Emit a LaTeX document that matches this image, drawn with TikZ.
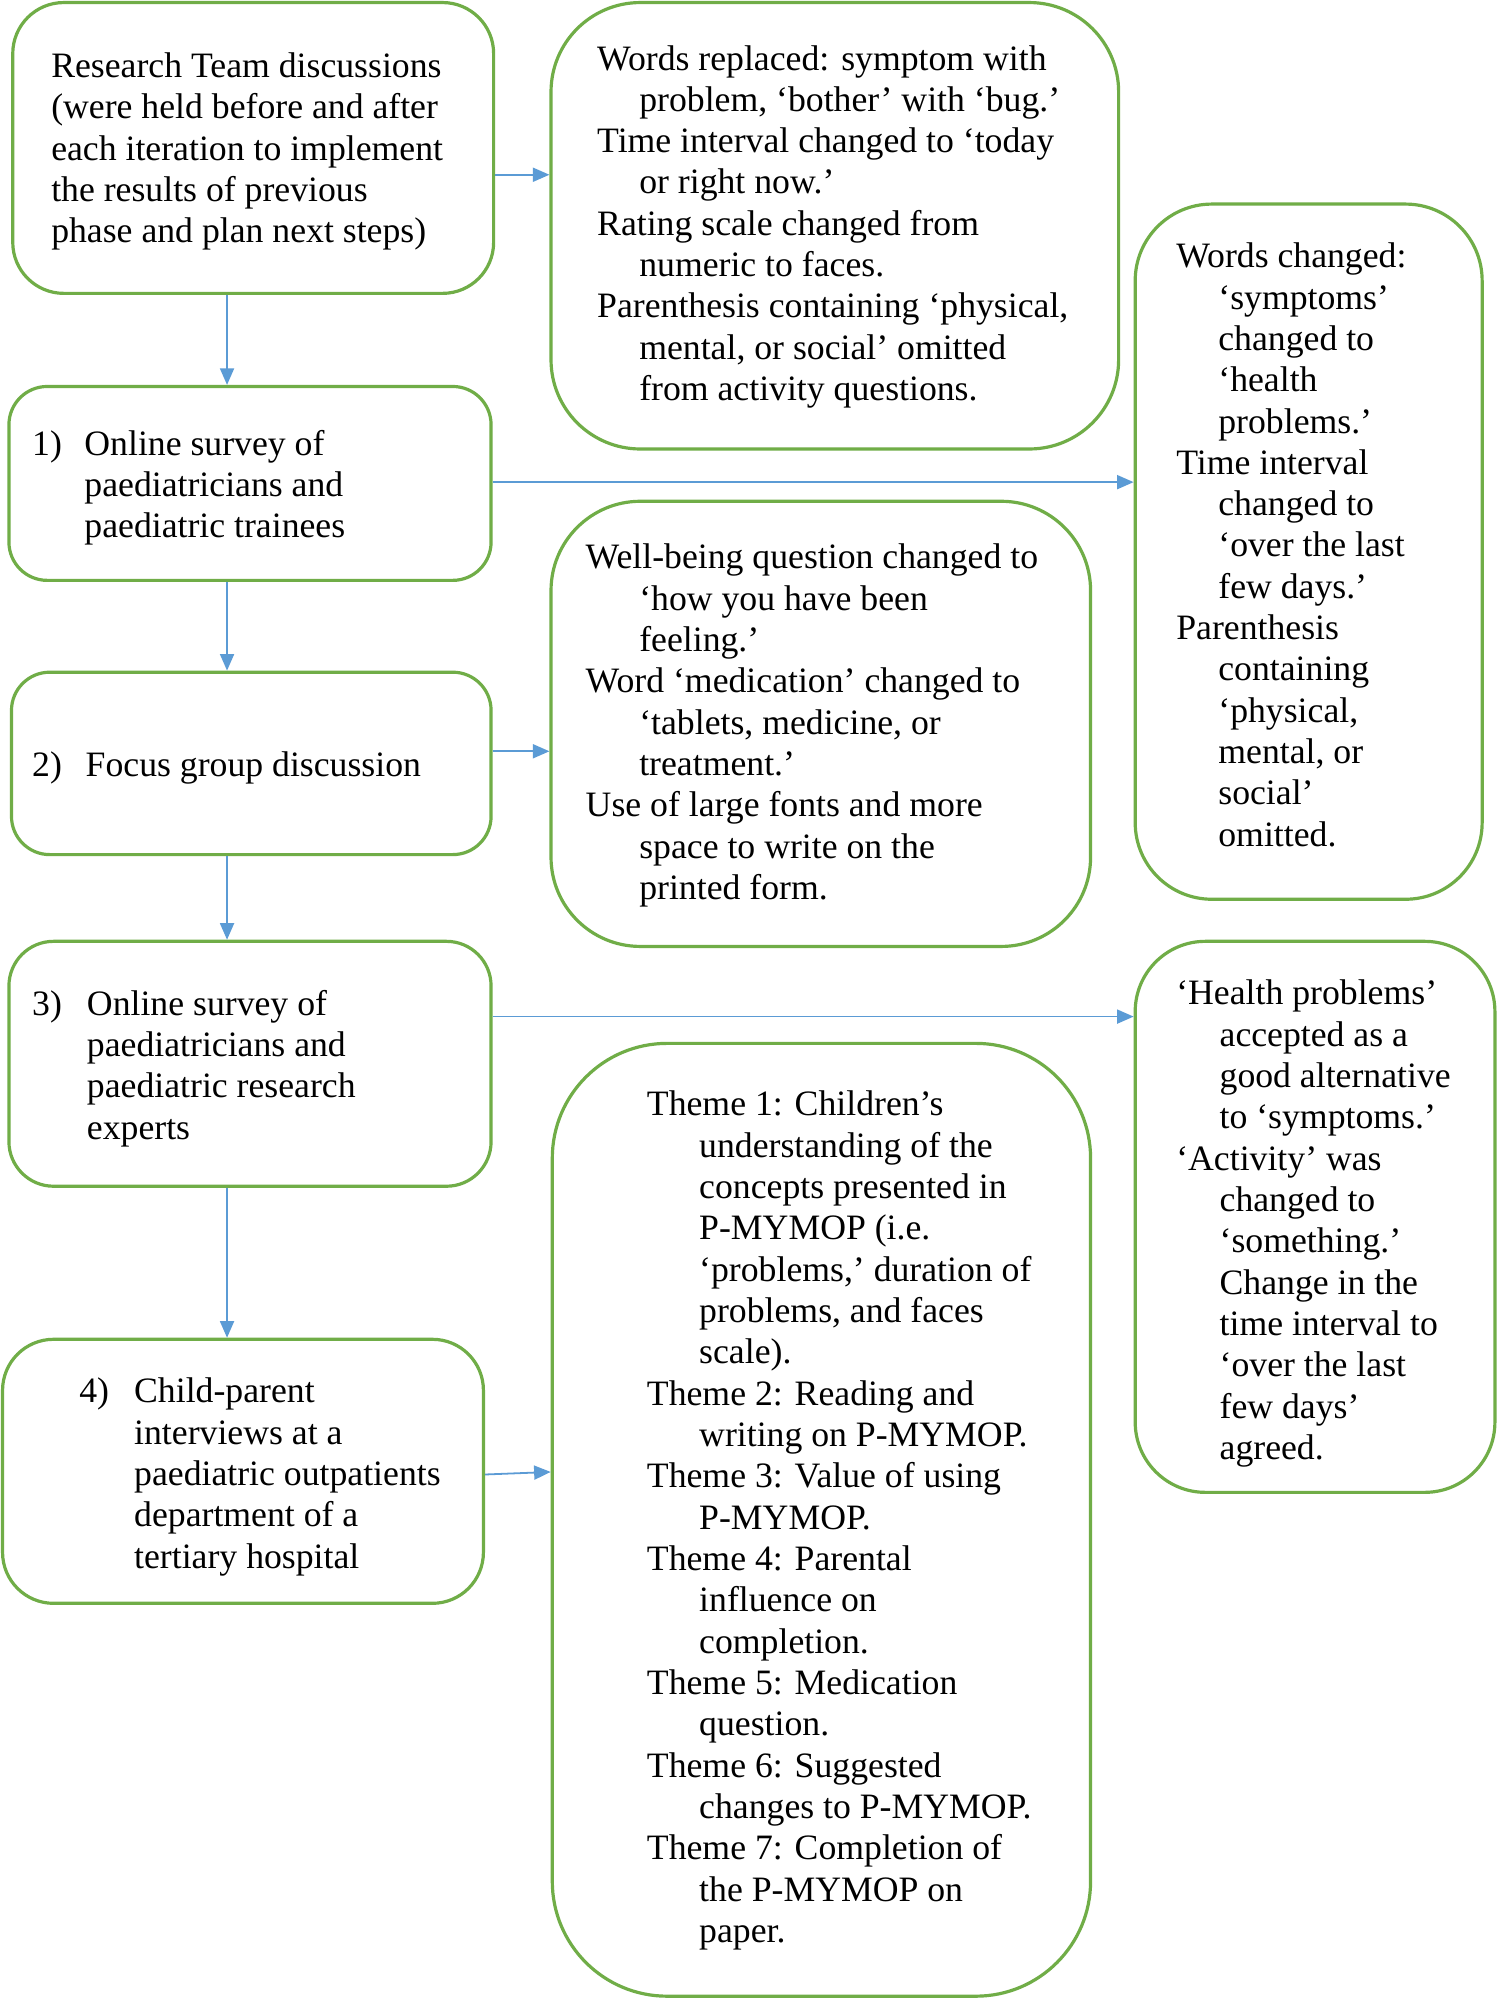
\documentclass[tikz,border=0pt]{standalone}
\usepackage{fontspec}
\setmainfont{Liberation Serif}
\usetikzlibrary{arrows.meta}
\definecolor{boxgreen}{HTML}{70AD47}
\definecolor{arrblue}{HTML}{5B9BD5}
\newcommand{\hi}[1]{\hspace*{#1pt}}
\begin{document}
\begin{tikzpicture}[x=1pt,y=-1pt,
  box/.style={draw=boxgreen, line width=2.5pt, rectangle, inner sep=0pt, fill=white},
  txt/.style={anchor=north west, inner sep=0pt, align=left, font=\fontsize{28}{32.4}\selectfont},
  arr/.style={draw=arrblue, line width=1.4pt, -{Triangle[length=13pt,width=11pt]}}]
\useasboundingbox[fill=white] (0,0) rectangle (1175,1568);

% boxes
\node[box, minimum width=377pt, minimum height=228pt, rounded corners=40pt] (R) at (198.5,116) {};
\node[box, minimum width=445pt, minimum height=350pt, rounded corners=70pt] (A) at (654.5,177) {};
\node[box, minimum width=378pt, minimum height=152pt, rounded corners=30pt] (n1) at (196,379) {};
\node[box, minimum width=272pt, minimum height=545pt, rounded corners=60pt] (W) at (1026,432.5) {};
\node[box, minimum width=423pt, minimum height=349pt, rounded corners=70pt] (B) at (643.5,567.5) {};
\node[box, minimum width=376pt, minimum height=143pt, rounded corners=30pt] (n2) at (197,598.5) {};
\node[box, minimum width=378pt, minimum height=192pt, rounded corners=35pt] (n3) at (196,834) {};
\node[box, minimum width=282pt, minimum height=432pt, rounded corners=55pt] (H) at (1031,954) {};
\node[box, minimum width=422pt, minimum height=747pt, rounded corners=90pt] (T) at (644,1191.5) {};
\node[box, minimum width=377pt, minimum height=207pt, rounded corners=40pt] (n4) at (190.5,1153.5) {};

% texts
\node[txt] (tR) at (40,38) {\strut Research Team discussions\\
(were held before and after\\
each iteration to implement\\
the results of previous\\
phase and plan next steps)};

\node[txt] (tA) at (468,32) {\strut Words replaced: symptom with\\
\hi{33}problem, ‘bother’ with ‘bug.’\\
Time interval changed to ‘today\\
\hi{33}or right now.’\\
Rating scale changed from\\
\hi{33}numeric to faces.\\
Parenthesis containing ‘physical,\\
\hi{33}mental, or social’ omitted\\
\hi{33}from activity questions.};

\node[txt] (t1) at (25,334) {\strut\makebox[41pt][l]{1)}Online survey of\\
\hi{41}paediatricians and\\
\hi{41}paediatric trainees};

\node[txt] (tW) at (922,187) {\strut Words changed:\\
\hi{33}‘symptoms’\\
\hi{33}changed to\\
\hi{33}‘health\\
\hi{33}problems.’\\
Time interval\\
\hi{33}changed to\\
\hi{33}‘over the last\\
\hi{33}few days.’\\
Parenthesis\\
\hi{33}containing\\
\hi{33}‘physical,\\
\hi{33}mental, or\\
\hi{33}social’\\
\hi{33}omitted.};

\node[txt] (tB) at (459,423) {\strut Well-being question changed to\\
\hi{42}‘how you have been\\
\hi{42}feeling.’\\
Word ‘medication’ changed to\\
\hi{42}‘tablets, medicine, or\\
\hi{42}treatment.’\\
Use of large fonts and more\\
\hi{42}space to write on the\\
\hi{42}printed form.};

\node[txt] (t2) at (25,586) {\strut\makebox[42pt][l]{2)}Focus group discussion};

\node[txt] (t3) at (25,773) {\strut\makebox[43pt][l]{3)}Online survey of\\
\hi{43}paediatricians and\\
\hi{43}paediatric research\\
\hi{43}experts};

\node[txt] (tH) at (922,765) {\strut ‘Health problems’\\
\hi{34}accepted as a\\
\hi{34}good alternative\\
\hi{34}to ‘symptoms.’\\
‘Activity’ was\\
\hi{34}changed to\\
\hi{34}‘something.’\\
\hi{34}Change in the\\
\hi{34}time interval to\\
\hi{34}‘over the last\\
\hi{34}few days’\\
\hi{34}agreed.};

\node[txt] (tT) at (507,852) {\strut Theme 1: Children’s\\
\hi{41}understanding of the\\
\hi{41}concepts presented in\\
\hi{41}P-MYMOP (i.e.\\
\hi{41}‘problems,’ duration of\\
\hi{41}problems, and faces\\
\hi{41}scale).\\
Theme 2: Reading and\\
\hi{41}writing on P-MYMOP.\\
Theme 3: Value of using\\
\hi{41}P-MYMOP.\\
Theme 4: Parental\\
\hi{41}influence on\\
\hi{41}completion.\\
Theme 5: Medication\\
\hi{41}question.\\
Theme 6: Suggested\\
\hi{41}changes to P-MYMOP.\\
Theme 7: Completion of\\
\hi{41}the P-MYMOP on\\
\hi{41}paper.};

\node[txt] (t4) at (62,1077) {\strut\makebox[43pt][l]{4)}Child-parent\\
\hi{43}interviews at a\\
\hi{43}paediatric outpatients\\
\hi{43}department of a\\
\hi{43}tertiary hospital};

% connectors
\draw[arr] (R.east |- 0,137) -- (A.west |- 0,137);
\draw[arr] (R.south -| 178,0) -- (n1.north -| 178,0);
\draw[arr] (n1.east |- 0,378) -- (W.west |- 0,378);
\draw[arr] (n1.south -| 178,0) -- (n2.north -| 178,0);
\draw[arr] (n2.east |- 0,589) -- (B.west |- 0,589);
\draw[arr] (n2.south -| 178,0) -- (n3.north -| 178,0);
\draw[arr] (n3.east |- 0,797) -- (H.west |- 0,797);
\draw[arr] (n3.south -| 178,0) -- (n4.north -| 178,0);
\draw[arr] (n4.east |- 0,1156) -- (T.west |- 0,1154);
\end{tikzpicture}
\end{document}
